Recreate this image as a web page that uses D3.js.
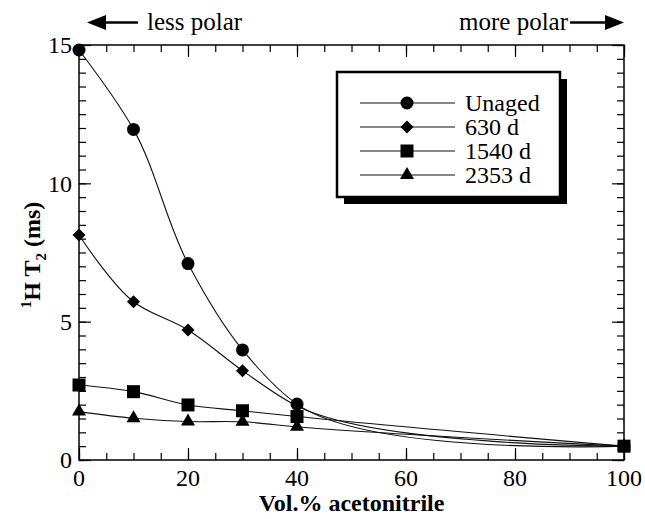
<!DOCTYPE html>
<html><head><meta charset="utf-8">
<script src="https://cdn.jsdelivr.net/npm/d3@7"></script>
<style>
body{margin:0;background:#fff}
svg{display:block}
</style>
</head><body>
<svg id="c" width="645" height="519"></svg>
<script>
// ---- data ----
const xValues = [0, 10, 20, 30, 40, 100];
const unaged = [14.82, 11.95, 7.10, 3.98, 2.02, 0.5];
const d630 = [8.13, 5.72, 4.70, 3.23, 1.95, 0.5];
const d1540 = [2.71, 2.47, 1.99, 1.78, 1.57, 0.5];
const d2353 = [1.75, 1.51, 1.39, 1.38, 1.20, 0.5];
const seriesNames = ["Unaged", "630 d", "1540 d", "2353 d"];
const xTickLabels = [0, 20, 40, 60, 80, 100];
const yTickLabels = [0, 5, 10, 15];
const xTitle = "Vol.% acetonitrile";
const leftNote = "less polar";
const rightNote = "more polar";

const FONT = "Liberation Serif";
const svg = d3.select("#c");
const L = 79, R = 624, T = 45, B = 460;
const x = d3.scaleLinear().domain([0, 100]).range([L, R]);
const y = d3.scaleLinear().domain([0, 15]).range([B, T]);

function txt(parent){
  return parent.append("text").attr("font-family", FONT);
}

// marker shapes
const diamondType = {draw(ctx, size){ const r = Math.sqrt(size/2); ctx.moveTo(0,-r); ctx.lineTo(r,0); ctx.lineTo(0,r); ctx.lineTo(-r,0); ctx.closePath(); }};
const shapes = {
  "Unaged": d3.symbol().type(d3.symbolCircle).size(Math.PI*6.5*6.5),
  "630 d": d3.symbol().type(diamondType).size(2*6.5*6.5),
  "1540 d": d3.symbol().type(d3.symbolSquare).size(13*13),
  "2353 d": d3.symbol().type(d3.symbolTriangle).size(Math.sqrt(3)/4*14*14)
};
const seriesData = {"Unaged": unaged, "630 d": d630, "1540 d": d1540, "2353 d": d2353};

// frame
svg.append("rect").attr("x", L).attr("y", T).attr("width", R-L).attr("height", B-T)
  .attr("fill","none").attr("stroke","#000").attr("stroke-width",1.5);

// ticks via axes (inward)
function xTicks(orient, vals, len){
  const ax = (orient==="bottom"? d3.axisBottom(x) : d3.axisTop(x)).tickValues(vals).tickSize(-len).tickFormat("");
  const g = svg.append("g").attr("transform", `translate(0,${orient==="bottom"?B:T})`).call(ax);
  g.select(".domain").remove();
  g.selectAll("line").attr("stroke","#000").attr("stroke-width",1.2);
}
function yTicks(orient, vals, len){
  const ax = (orient==="left"? d3.axisLeft(y) : d3.axisRight(y)).tickValues(vals).tickSize(-len).tickFormat("");
  const g = svg.append("g").attr("transform", `translate(${orient==="left"?L:R},0)`).call(ax);
  g.select(".domain").remove();
  g.selectAll("line").attr("stroke","#000").attr("stroke-width",1.2);
}
const xMinor = d3.range(0, 101, 5), xMajor = d3.range(0, 101, 20);
const yMinor = d3.range(0, 15.01, 0.5), yMajor = d3.range(0, 15.01, 5);
["bottom","top"].forEach(o => { xTicks(o, xMinor, 7); xTicks(o, xMajor, 12); });
["left","right"].forEach(o => { yTicks(o, yMinor, 7); yTicks(o, yMajor, 12); });

// tick labels
const gx = svg.append("g");
xTickLabels.forEach(d => txt(gx).attr("x", x(d)).attr("y", 486).attr("text-anchor","middle").attr("font-size", 24).text(d));
const gy = svg.append("g");
yTickLabels.forEach(d => txt(gy).attr("x", 72).attr("y", y(d)).attr("dy","0.35em").attr("text-anchor","end").attr("font-size", 24).text(d));

// axis titles
txt(svg).attr("x", (L+R)/2).attr("y", 511).attr("text-anchor","middle")
  .attr("font-size", 24).attr("font-weight","bold").text(xTitle);
const yt = txt(svg).attr("transform","translate(40,255) rotate(-90)")
  .attr("text-anchor","middle").attr("font-size",24).attr("font-weight","bold");
yt.append("tspan").attr("font-size",15).attr("dy",-9).text("1");
yt.append("tspan").attr("dy",9).text("H  T");
yt.append("tspan").attr("font-size",15).attr("dy",6).text("2");
yt.append("tspan").attr("dy",-6).text(" (ms)");

// polarity notes
txt(svg).attr("x",147).attr("y",30).attr("font-size",25).text(leftNote);
txt(svg).attr("x",568).attr("y",30).attr("text-anchor","end").attr("font-size",25).text(rightNote);
svg.append("line").attr("x1",104).attr("x2",138).attr("y1",22.5).attr("y2",22.5).attr("stroke","#000").attr("stroke-width",2.5);
svg.append("path").attr("d","M87,22.5 L106,15 L106,30 Z").attr("fill","#000");
svg.append("line").attr("x1",570).attr("x2",607).attr("y1",22.5).attr("y2",22.5).attr("stroke","#000").attr("stroke-width",2.5);
svg.append("path").attr("d","M624,22.5 L605,15 L605,30 Z").attr("fill","#000");

// curves + markers
const line = d3.line().x(d => x(d[0])).y(d => y(d[1])).curve(d3.curveCatmullRom.alpha(0.85));
const order = ["2353 d", "630 d", "Unaged", "1540 d"];
order.forEach(name => {
  const pts = xValues.map((xv, i) => [xv, seriesData[name][i]]);
  svg.append("path").datum(pts).attr("d", line).attr("fill","none").attr("stroke","#111").attr("stroke-width",1.1);
});
order.forEach(name => {
  const pts = xValues.map((xv, i) => [xv, seriesData[name][i]]);
  svg.append("g").selectAll("path").data(pts).join("path")
    .attr("transform", d => `translate(${x(d[0])},${y(d[1])})`)
    .attr("d", shapes[name]()).attr("fill","#000");
});

// legend
const lg = svg.append("g");
lg.append("rect").attr("x",344).attr("y",79).attr("width",223).attr("height",125).attr("fill","#000");
lg.append("rect").attr("x",337).attr("y",72).attr("width",223).attr("height",125).attr("fill","#fff").attr("stroke","#000").attr("stroke-width",2.5);
const rowY = d3.scalePoint().domain(seriesNames).range([103, 175]);
seriesNames.forEach(name => {
  const yy = rowY(name);
  lg.append("line").attr("x1",360).attr("x2",455).attr("y1",yy).attr("y2",yy).attr("stroke","#111").attr("stroke-width",1.1);
  lg.append("path").attr("transform",`translate(407,${yy})`).attr("d", shapes[name]()).attr("fill","#000");
  txt(lg).attr("x",465).attr("y",yy).attr("dy","0.33em").attr("font-size",24).text(name);
});
</script>
</body></html>
